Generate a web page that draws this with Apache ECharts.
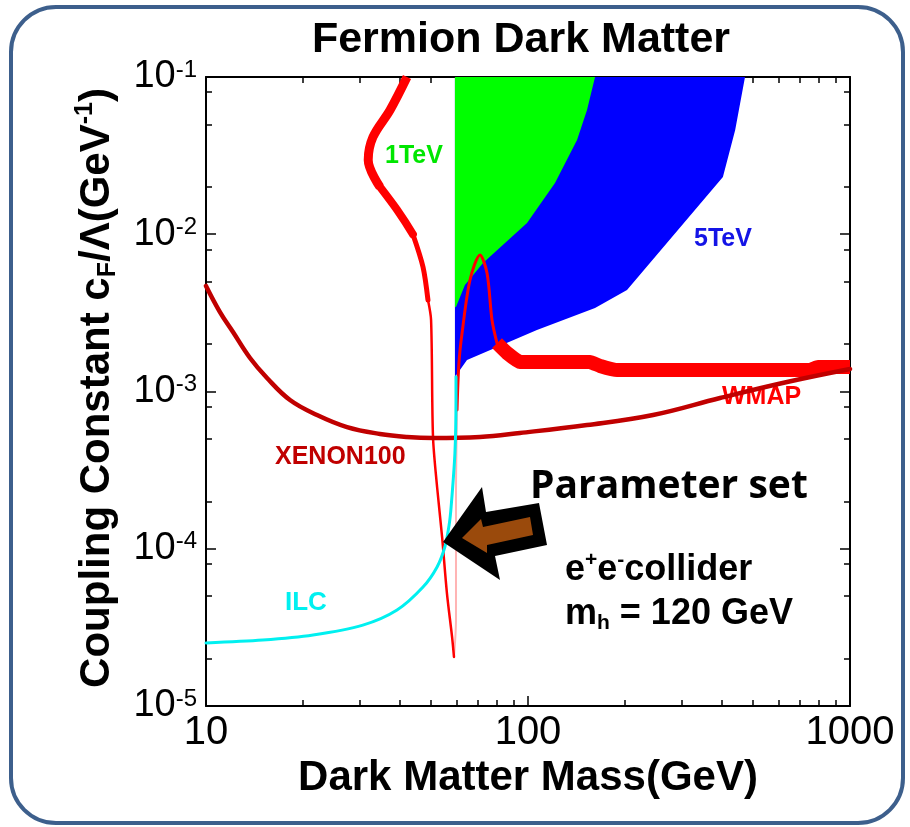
<!DOCTYPE html>
<html>
<head>
<meta charset="utf-8">
<script src="https://cdn.jsdelivr.net/npm/echarts@6/dist/echarts.min.js"></script>
<style>
html,body{margin:0;padding:0;background:#fff;}
#c{width:910px;height:827px;}
</style>
</head>
<body>
<div id="c"></div>
<script>
// ---- axis ticks ----
const xMajorTicks = [10, 100, 1000];
const xMinorTicks = [20, 30, 40, 50, 60, 70, 80, 90, 200, 300, 400, 500, 600, 700, 800, 900];
const yMajorTicks = [1e-5, 1e-4, 1e-3, 1e-2, 1e-1];
const yMinorTicks = [2e-5, 5e-5, 8e-5, 2e-4, 5e-4, 8e-4, 2e-3, 5e-3, 8e-3, 2e-2, 5e-2, 8e-2];
const yTickExponents = ['-5', '-4', '-3', '-2', '-1'];

// ---- XENON100 limit ----
const xenonMass = [10, 11.05, 12.13, 13.7, 15.47, 18.23, 22.12, 27.41, 34.7, 42.08, 50.7, 70.9, 94.4, 152.5, 244.5, 394.8, 637.5, 1000];
const xenonCoupling = [4.69e-3, 3.2e-3, 2.39e-3, 1.633e-3, 1.219e-3, 8.83e-4, 7.09e-4, 5.94e-4, 5.37e-4, 5.14e-4, 5.06e-4, 5.14e-4, 5.45e-4, 6.12e-4, 7.09e-4, 9.09e-4, 1.149e-3, 1.39e-3];

// ---- ILC reach ----
const ilcMass = [10, 15.0, 21.5, 30.7, 39.2, 47.2, 52.2, 55.2, 56.9, 57.7, 59.3, 59.75, 59.75];
const ilcCoupling = [2.52e-5, 2.63e-5, 2.83e-5, 3.27e-5, 4.08e-5, 5.71e-5, 7.66e-5, 1.03e-4, 1.42e-4, 1.84e-4, 4.06e-4, 8.83e-4, 1.24e-3];

// ---- WMAP relic-abundance band (pieces) ----
const wmapTopMass = [42.1, 37.3, 33.0, 31.9, 34.7];
const wmapTopCoupling = [0.1, 0.0617, 0.0415, 0.0297, 0.020];
const wmapUpperMass = [34.7, 39.2, 43.9];
const wmapUpperCoupling = [0.020, 0.0143, 0.0100];
const wmapMidMass = [43.9, 47.2, 48.9];
const wmapMidCoupling = [0.0100, 0.00619, 0.00382];
const wmapThinMass = [48.9, 50.0, 50.7, 52.2, 54.1, 56.0, 58.1, 58.9];
const wmapThinCoupling = [3.82e-3, 2.85e-3, 5.14e-4, 2.47e-4, 1.19e-4, 5.23e-5, 2.75e-5, 2.05e-5];
const wmapPaleMass = [58.9, 59.75, 59.75, 60.2];
const wmapPaleCoupling = [2.05e-5, 3.52e-5, 2.04e-4, 7.63e-4];
const wmapPeakMass = [60.2, 61.0, 62.4, 66.05, 70.96, 74.6, 77.3, 80.1];
const wmapPeakCoupling = [7.63e-4, 1.5e-3, 2.35e-3, 5.12e-3, 7.38e-3, 5.67e-3, 2.85e-3, 2.03e-3];
const wmapBandMass = [80.1, 86.1, 94.4, 155.8, 167.3, 189, 751, 795.6, 1000];
const wmapBandCoupling = [2.03e-3, 1.757e-3, 1.54e-3, 1.54e-3, 1.453e-3, 1.37e-3, 1.37e-3, 1.43e-3, 1.43e-3];

// ---- collider reach regions ----
const edgeMass = 59.3;
const topCoupling = 0.1;
const oneTeVMass = [161.5, 152.5, 142.0, 121.3, 99.3, 72.5, 63.7, 59.75];
const oneTeVCoupling = [0.1, 0.0617, 0.0397, 0.0212, 0.01179, 0.00657, 0.00476, 0.00345];
const fiveTeVMass = [59.3, 64.65, 106.6, 161.5, 203, 403, 440, 472];
const fiveTeVCoupling = [1.237e-3, 1.586e-3, 2.46e-3, 3.40e-3, 4.42e-3, 0.0231, 0.046, 0.1];

const zip = (a, b) => a.map((v, i) => [v, b[i]]);

const bluePoly = [[edgeMass, fiveTeVCoupling[0]]].concat(zip(fiveTeVMass, fiveTeVCoupling), [[edgeMass, topCoupling]]);
const greenPoly = [[edgeMass, topCoupling]].concat(zip(oneTeVMass, oneTeVCoupling), [[edgeMass, oneTeVCoupling[oneTeVCoupling.length - 1]]]);

function polySeries(poly, color, z) {
  return {
    type: 'custom', z: z, silent: true, clip: true,
    data: [poly[0]],
    renderItem: function (params, api) {
      return { type: 'polygon', shape: { points: poly.map(p => api.coord(p)) }, style: { fill: color } };
    }
  };
}
function lineSeries(mass, coup, color, width, z, smooth, cap) {
  return {
    type: 'line', data: zip(mass, coup), showSymbol: false, symbol: 'none', silent: true, z: z, clip: true,
    smooth: smooth === undefined ? 0.3 : smooth,
    lineStyle: { color: color, width: width, cap: cap || 'round', join: 'round' }
  };
}

const FONT = '"Liberation Sans", Arial, sans-serif';
const xBase = { type: 'log', logBase: 10, min: 10, max: 1000, gridIndex: 0, splitLine: { show: false } };
const yBase = { type: 'log', logBase: 10, min: 1e-5, max: 1e-1, gridIndex: 0, splitLine: { show: false } };
const tickLine = { color: '#000', width: 1.5 };

const chart = echarts.init(document.getElementById('c'), null, { renderer: 'canvas' });
chart.setOption({
  animation: false,
  backgroundColor: '#ffffff',
  title: {
    text: 'Fermion Dark Matter', left: 516, textAlign: 'center', top: 14,
    textStyle: { fontFamily: FONT, fontWeight: 'bold', fontSize: 43, color: '#000' }
  },
  grid: { left: 206, top: 77, width: 644, height: 629, containLabel: false },
  xAxis: [
    Object.assign({}, xBase, {
      position: 'bottom',
      axisLine: { show: true, lineStyle: { color: '#000', width: 2 } },
      axisTick: { show: true, inside: true, length: 10, customValues: xMajorTicks, lineStyle: tickLine },
      axisLabel: { show: true, customValues: xMajorTicks, margin: 7, fontFamily: FONT, fontSize: 40, color: '#000', formatter: v => String(Math.round(v)) },
      name: 'Dark Matter Mass(GeV)', nameLocation: 'middle', nameGap: 51,
      nameTextStyle: { fontFamily: FONT, fontWeight: 'bold', fontSize: 42, color: '#000' }
    }),
    Object.assign({}, xBase, {
      position: 'bottom', axisLine: { show: false },
      axisTick: { show: true, inside: true, length: 6, customValues: xMinorTicks, lineStyle: tickLine },
      axisLabel: { show: false }
    }),
    Object.assign({}, xBase, {
      position: 'top',
      axisLine: { show: true, lineStyle: { color: '#000', width: 2 } },
      axisTick: { show: true, inside: true, length: 10, customValues: xMajorTicks, lineStyle: tickLine },
      axisLabel: { show: false }
    }),
    Object.assign({}, xBase, {
      position: 'top', axisLine: { show: false },
      axisTick: { show: true, inside: true, length: 6, customValues: xMinorTicks, lineStyle: tickLine },
      axisLabel: { show: false }
    })
  ],
  yAxis: [
    Object.assign({}, yBase, {
      position: 'left',
      axisLine: { show: true, lineStyle: { color: '#000', width: 2 } },
      axisTick: { show: true, inside: true, length: 10, customValues: yMajorTicks, lineStyle: tickLine },
      axisLabel: {
        show: true, customValues: yMajorTicks, margin: 9,
        formatter: v => '{b|10}{s|' + yTickExponents[yMajorTicks.findIndex(t => Math.abs(Math.log10(t) - Math.log10(v)) < 0.01)] + '}',
        rich: {
          b: { fontFamily: FONT, fontSize: 38, color: '#000', lineHeight: 38 },
          s: { fontFamily: FONT, fontSize: 24, color: '#000', verticalAlign: 'top', lineHeight: 38 }
        }
      }
    }),
    Object.assign({}, yBase, {
      position: 'left', axisLine: { show: false },
      axisTick: { show: true, inside: true, length: 6, customValues: yMinorTicks, lineStyle: tickLine },
      axisLabel: { show: false }
    }),
    Object.assign({}, yBase, {
      position: 'right',
      axisLine: { show: true, lineStyle: { color: '#000', width: 2 } },
      axisTick: { show: true, inside: true, length: 10, customValues: yMajorTicks, lineStyle: tickLine },
      axisLabel: { show: false }
    }),
    Object.assign({}, yBase, {
      position: 'right', axisLine: { show: false },
      axisTick: { show: true, inside: true, length: 6, customValues: yMinorTicks, lineStyle: tickLine },
      axisLabel: { show: false }
    })
  ],
  series: [
    polySeries(bluePoly, '#0000ff', 1),
    polySeries(greenPoly, '#00ff00', 1),
    lineSeries(wmapTopMass, wmapTopCoupling, '#ff0000', 9, 5, 0.35, 'butt'),
    lineSeries(wmapUpperMass, wmapUpperCoupling, '#ff0000', 8, 5, 0.3),
    lineSeries(wmapMidMass, wmapMidCoupling, '#ff0000', 5, 5, 0.3),
    lineSeries(wmapThinMass, wmapThinCoupling, '#ff0000', 2.5, 5),
    lineSeries(wmapPaleMass, wmapPaleCoupling, '#ffb4b4', 2, 4),
    lineSeries(wmapPeakMass, wmapPeakCoupling, '#ff0000', 3, 5),
    lineSeries(wmapBandMass, wmapBandCoupling, '#ff0000', 14, 5, 0.1, 'butt'),
    lineSeries(xenonMass, xenonCoupling, '#c00000', 4.5, 7, 0.4),
    lineSeries(ilcMass, ilcCoupling, '#00f0f0', 3, 8, 0.3)
  ],
  graphic: [
    { type: 'rect', z: -10, silent: true, shape: { x: 11, y: 7, width: 892, height: 816, r: 45 },
      style: { fill: null, stroke: '#3d5f8c', lineWidth: 4 } },
    { type: 'text', z: 100, x: 97, y: 388, rotation: Math.PI / 2, silent: true,
      style: {
        text: '{n|Coupling Constant c}{sub|F}{n|/Λ(GeV}{sup|-1}{n|)}', align: 'center', verticalAlign: 'middle',
        rich: {
          n: { fontFamily: FONT, fontWeight: 'bold', fontSize: 42, fill: '#000', lineHeight: 48 },
          sub: { fontFamily: FONT, fontWeight: 'bold', fontSize: 25, fill: '#000', verticalAlign: 'bottom', lineHeight: 48 },
          sup: { fontFamily: FONT, fontWeight: 'bold', fontSize: 25, fill: '#000', verticalAlign: 'top', lineHeight: 48 }
        }
      } },
    { type: 'text', z: 100, x: 385, y: 156, silent: true,
      style: { text: '1TeV', fill: '#00e600', font: 'bold 25px "Liberation Sans", sans-serif', verticalAlign: 'middle' } },
    { type: 'text', z: 100, x: 694, y: 239, silent: true,
      style: { text: '5TeV', fill: '#1414e6', font: 'bold 25px "Liberation Sans", sans-serif', verticalAlign: 'middle' } },
    { type: 'text', z: 1, x: 722, y: 397, silent: true,
      style: { text: 'WMAP', fill: '#ff0000', font: 'bold 25px "Liberation Sans", sans-serif', verticalAlign: 'middle' } },
    { type: 'text', z: 100, x: 275, y: 457, silent: true,
      style: { text: 'XENON100', fill: '#c00000', font: 'bold 25px "Liberation Sans", sans-serif', verticalAlign: 'middle' } },
    { type: 'text', z: 100, x: 285, y: 603, silent: true,
      style: { text: 'ILC', fill: '#00f0f0', font: 'bold 26px "Liberation Sans", sans-serif', verticalAlign: 'middle' } },
    { type: 'polygon', z: 100, silent: true,
      shape: { points: [[443, 542], [482, 487], [486, 512], [539, 503], [547, 545], [495, 556], [500, 580]] },
      style: { fill: '#000' } },
    { type: 'polygon', z: 101, silent: true,
      shape: { points: [[462, 538], [481, 519], [483, 527], [530, 517], [533, 535], [487, 545], [487, 553]] },
      style: { fill: '#9a4a0c' } },
    { type: 'text', z: 100, x: 530, y: 487, silent: true,
      style: { text: 'Parameter set', fill: '#000', font: 'bold 39px "Open Sans", "Liberation Sans", sans-serif', verticalAlign: 'middle' } },
    { type: 'text', z: 100, x: 565, y: 570, silent: true,
      style: {
        text: '{n|e}{s|+}{n|e}{s|-}{n|collider}', verticalAlign: 'middle',
        rich: {
          n: { fontFamily: FONT, fontWeight: 'bold', fontSize: 36, fill: '#000', lineHeight: 40 },
          s: { fontFamily: FONT, fontWeight: 'bold', fontSize: 21, fill: '#000', verticalAlign: 'top', lineHeight: 40 }
        }
      } },
    { type: 'text', z: 100, x: 565, y: 614, silent: true,
      style: {
        text: '{n|m}{s|h}{n| = 120 GeV}', verticalAlign: 'middle',
        rich: {
          n: { fontFamily: FONT, fontWeight: 'bold', fontSize: 36, fill: '#000', lineHeight: 40 },
          s: { fontFamily: FONT, fontWeight: 'bold', fontSize: 21, fill: '#000', verticalAlign: 'bottom', lineHeight: 40 }
        }
      } }
  ]
});
</script>
</body>
</html>
